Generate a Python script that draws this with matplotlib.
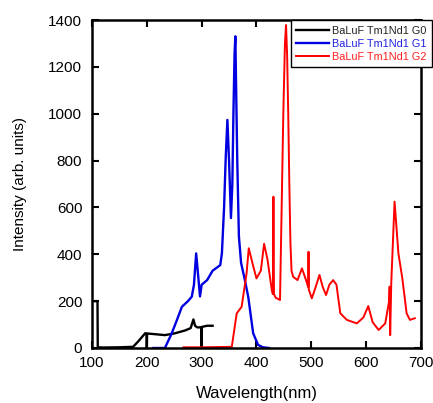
import matplotlib
matplotlib.use("Agg")
import matplotlib.pyplot as plt

plt.rcParams['font.family'] = ['Liberation Sans', 'DejaVu Sans']

# G0 (black)
g0_wl = [100, 110, 110.5, 120, 150, 175, 185, 197, 199.5, 200, 200.5, 210, 233, 250, 270, 280, 285, 288, 292, 299.5, 300, 300.5, 310, 320]
g0_int = [200, 200, 3, 2, 3, 5, 30, 63, 60, 0, 62, 60, 55, 62, 75, 85, 122, 95, 88, 88, 0, 90, 95, 95]

# G1 (blue)
g1_wl = [212, 233, 245, 255, 264, 275, 282, 286, 290, 294, 297, 300, 310, 320, 334, 337, 341, 344, 347, 350, 353.5, 356, 358, 360, 361.5, 363, 365, 368, 372, 378, 385, 394, 403, 412, 423]
g1_int = [0, 0, 60, 120, 176, 200, 219, 270, 404, 300, 220, 270, 290, 330, 354, 405, 603, 817, 974, 800, 555, 700, 1000, 1250, 1331, 1100, 800, 476, 363, 300, 219, 63, 13, 3, 0]

# G2 (red)
g2_wl = [267, 300, 355, 364, 373, 382, 386, 393, 400, 408, 414, 420, 428, 430, 431, 432, 435, 443, 446, 449, 452, 454, 456, 458, 460, 462, 464, 467, 475, 483, 489, 494.5, 495, 495.5, 501, 508, 515, 521, 527, 533, 540, 546, 553, 565, 583, 595, 604, 612, 623, 635, 642, 643, 644, 646, 652, 659, 666, 674, 680, 689]
g2_int = [3, 3, 5, 148, 176, 319, 426, 360, 297, 330, 445, 380, 248, 230, 646, 230, 215, 205, 600, 1000, 1300, 1379, 1250, 1000, 700, 450, 330, 304, 290, 340, 300, 260, 411, 250, 212, 260, 312, 260, 226, 270, 290, 270, 148, 120, 105, 130, 179, 110, 77, 105, 200, 262, 55, 280, 625, 404, 300, 148, 120, 127]

fig = plt.figure(figsize=(4.33, 4.03), dpi=100)
ax = fig.add_axes([0.2125, 0.1365, 0.7595, 0.8135])

ax.plot(g0_wl, g0_int, color='black', lw=1.7, label='BaLuF Tm1Nd1 G0')
ax.plot(g1_wl, g1_int, color='#0000e0', lw=1.7, label='BaLuF Tm1Nd1 G1')
ax.plot(g2_wl, g2_int, color='#ff0000', lw=1.4, label='BaLuF Tm1Nd1 G2')

ax.set_xlim(100, 700)
ax.set_ylim(0, 1400)
ax.set_xticks([100, 200, 300, 400, 500, 600, 700])
ax.set_yticks([0, 200, 400, 600, 800, 1000, 1200, 1400])
ax.tick_params(direction='in', length=5, width=1.5, labelsize=11, top=True, right=True)
ax.tick_params(axis='x', pad=6)
ax.tick_params(axis='y', pad=7)
for s in ax.spines.values():
    s.set_linewidth(1.8)

ax.set_xlabel('Wavelength(nm)', fontsize=12, labelpad=11)
ax.set_ylabel('Intensity (arb. units)', fontsize=11, labelpad=15)

leg = ax.legend(loc='upper right', bbox_to_anchor=(1.035, 1.0), fontsize=7.8, frameon=True,
                fancybox=False, edgecolor='black', framealpha=1, handlelength=3.0, handletextpad=0.35,
                borderpad=0.5, labelspacing=0.3, borderaxespad=0)
leg.get_frame().set_linewidth(1.0)
leg.set_zorder(10)
for t, c in zip(leg.get_texts(), ['#222222', '#2020e0', '#ff2020']):
    t.set_color(c)

fig.savefig('out.png', dpi=100)
